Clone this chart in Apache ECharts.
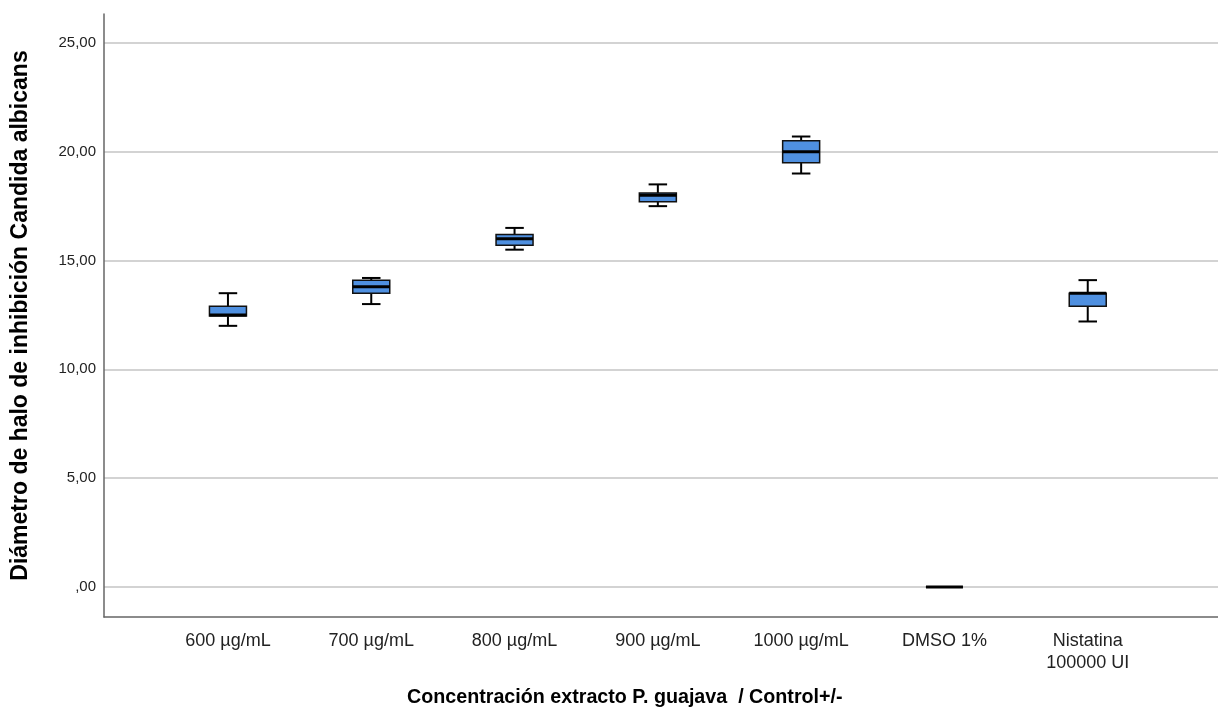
<!DOCTYPE html>
<html>
<head>
<meta charset="utf-8">
<script src="https://cdn.jsdelivr.net/npm/echarts@6/dist/echarts.min.js"></script>
<style>
  html, body { margin: 0; padding: 0; background: #ffffff; }
  #chart { width: 1218px; height: 722px; }
</style>
</head>
<body>
<div id="chart"></div>
<script>
// Grupos (concentración del extracto y controles)
const categories = ['600 µg/mL', '700 µg/mL', '800 µg/mL', '900 µg/mL', '1000 µg/mL', 'DMSO 1%', 'Nistatina\n100000 UI'];

// Estadísticos de cada caja: mínimo, Q1, mediana, Q3, máximo (mm)
const minimos  = [12.0, 13.0, 15.5, 17.5, 19.0, 0, 12.2];
const q1       = [12.45, 13.5, 15.7, 17.7, 19.5, 0, 12.9];
const medianas = [12.5, 13.8, 16.0, 18.0, 20.0, 0, 13.5];
const q3       = [12.9, 14.1, 16.2, 18.1, 20.5, 0, 13.5];
const maximos  = [13.5, 14.2, 16.5, 18.5, 20.7, 0, 14.1];

// Marcas del eje Y
const yTicks = [0, 5, 10, 15, 20, 25];

const boxData = categories.map((c, i) => [i, minimos[i], q1[i], medianas[i], q3[i], maximos[i]]);

function fmtComa(v) {
  const s = v.toFixed(2).replace('.', ',');
  return s.startsWith('0,') ? s.slice(1) : s;
}

const BOX_W = 37;

function renderBox(params, api) {
  const x = api.value(0);
  const pMin = api.coord([x, api.value(1)]);
  const pQ1 = api.coord([x, api.value(2)]);
  const pMed = api.coord([x, api.value(3)]);
  const pQ3 = api.coord([x, api.value(4)]);
  const pMax = api.coord([x, api.value(5)]);
  const cx = pMed[0];
  const half = BOX_W / 2;
  const cap = BOX_W / 4;
  const lineStyle = { stroke: '#000', lineWidth: 2 };
  const children = [
    { type: 'line', shape: { x1: cx, y1: pMax[1], x2: cx, y2: pQ3[1] }, style: lineStyle },
    { type: 'line', shape: { x1: cx, y1: pQ1[1], x2: cx, y2: pMin[1] }, style: lineStyle },
    { type: 'line', shape: { x1: cx - cap, y1: pMax[1], x2: cx + cap, y2: pMax[1] }, style: lineStyle },
    { type: 'line', shape: { x1: cx - cap, y1: pMin[1], x2: cx + cap, y2: pMin[1] }, style: lineStyle },
    { type: 'rect', shape: { x: cx - half, y: pQ3[1], width: BOX_W, height: pQ1[1] - pQ3[1] },
      style: { fill: '#4f90e0', stroke: '#111', lineWidth: 1.5 } },
    { type: 'line', shape: { x1: cx - half, y1: pMed[1], x2: cx + half, y2: pMed[1] },
      style: { stroke: '#000', lineWidth: 3 } }
  ];
  return { type: 'group', children: children };
}

const chart = echarts.init(document.getElementById('chart'), null, { renderer: 'canvas' });

chart.setOption({
  backgroundColor: '#ffffff',
  animation: false,
  grid: { left: 104, right: 0, top: 14, bottom: 105, containLabel: false },
  xAxis: {
    type: 'value',
    min: -0.865,
    max: 6.909,
    axisLine: { show: true, onZero: false, lineStyle: { color: '#666', width: 1.5 } },
    axisTick: { show: false },
    splitLine: { show: false },
    axisLabel: {
      customValues: categories.map((c, i) => i),
      formatter: v => categories[Math.round(v)],
      color: '#222',
      fontFamily: 'Liberation Sans, Arial, sans-serif',
      fontSize: 18,
      lineHeight: 22,
      margin: 13,
      verticalAlign: 'top'
    }
  },
  yAxis: {
    type: 'value',
    min: -1.38,
    max: 26.33,
    name: 'Diámetro de halo de inhibición Candida albicans',
    nameLocation: 'middle',
    nameGap: 72,
    nameTextStyle: {
      color: '#000',
      fontFamily: 'Liberation Sans, Arial, sans-serif',
      fontSize: 23,
      fontWeight: 'bold'
    },
    axisLine: { show: true, onZero: false, lineStyle: { color: '#666', width: 1.5 } },
    axisTick: { show: false, customValues: yTicks },
    splitLine: { show: true, lineStyle: { color: '#c4c4c4', width: 1.5 } },
    axisLabel: {
      customValues: yTicks,
      formatter: v => fmtComa(v),
      color: '#222',
      fontFamily: 'Liberation Sans, Arial, sans-serif',
      fontSize: 15,
      margin: 8
    }
  },
  graphic: [{
    type: 'text',
    left: 407,
    top: 688,
    style: {
      text: 'Concentración extracto P. guajava  / Control+/-',
      fill: '#000',
      font: 'bold 19.7px "Liberation Sans", Arial, sans-serif'
    }
  }],
  series: [{
    type: 'custom',
    renderItem: renderBox,
    data: boxData,
    encode: { x: 0, y: [1, 2, 3, 4, 5] },
    clip: false
  }]
});
</script>
</body>
</html>
